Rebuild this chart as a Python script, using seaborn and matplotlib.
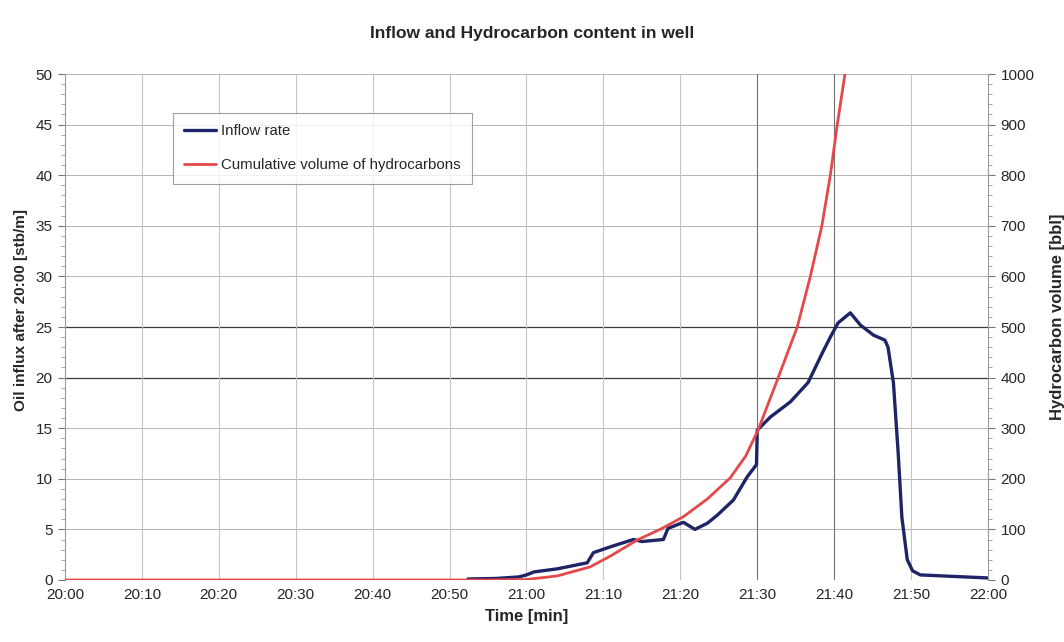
import matplotlib
matplotlib.use("Agg")
import matplotlib.pyplot as plt
import numpy as np
import pandas as pd
import seaborn as sns
from matplotlib.ticker import MultipleLocator

# minutes after 20:00
inflow_t = [52.4, 56, 59, 60, 61, 64, 67.9, 68.7, 71, 73.9, 75, 77.8, 78.4, 80.4,
            81.9, 83.5, 84.8, 86.9, 88.7, 89.9, 90.0, 91.7, 94.3, 96.6, 98.5, 99.5,
            100.5, 102.1, 103.4, 105.1, 106.6, 107.0, 107.7, 108.3, 108.8, 109.5,
            110.2, 111.2, 120]
inflow_rate = [0.1, 0.15, 0.3, 0.5, 0.8, 1.1, 1.7, 2.7, 3.3, 4.0, 3.8, 4.0, 5.1, 5.7,
               5.0, 5.6, 6.4, 7.9, 10.2, 11.4, 14.8, 16.1, 17.6, 19.5, 22.5, 24.0,
               25.4, 26.4, 25.2, 24.2, 23.7, 23.0, 19.5, 12.8, 6.2, 2.0,
               0.9, 0.5, 0.2]

cum_t = [0, 55, 60, 64, 68.3, 71, 74.4, 77.5, 80.4, 83.5, 86.5, 88.5, 90.1, 92.6,
         95.2, 96.9, 98.4, 99.5, 100.4, 101.4]
cum_vol = [0, 0, 1, 8, 26, 48, 79, 101, 125, 160, 202, 245, 296, 395,
           500, 600, 700, 800, 900, 1000]

time_labels = ["20:00", "20:10", "20:20", "20:30", "20:40", "20:50", "21:00",
               "21:10", "21:20", "21:30", "21:40", "21:50", "22:00"]

inflow = pd.DataFrame({"t": inflow_t, "rate": inflow_rate})
cum = pd.DataFrame({"t": cum_t, "vol": cum_vol})

sns.set_style("white")
plt.rcParams["font.family"] = ["Liberation Sans", "DejaVu Sans"]

fig = plt.figure(figsize=(10.64, 6.42), dpi=100)
ax = fig.add_axes([0.061, 0.0966, 0.8676, 0.7881])
ax2 = ax.twinx()

blue = "#1f2466"
red = "#e5484b"

# grid
for y in range(0, 51, 5):
    c = "#3a3a3a" if y in (20, 25) else "#b4b4b4"
    ax.axhline(y, color=c, lw=0.9 if y in (20, 25) else 0.7, zorder=0)
for i in range(0, 121, 10):
    c = "#707070" if i in (90, 100) else "#c4c4c4"
    ax.axvline(i, color=c, lw=0.8, zorder=0)

sns.lineplot(data=cum, x="t", y="vol", ax=ax2, color=red, lw=2.0,
             label="Cumulative volume of hydrocarbons", legend=False)
sns.lineplot(data=inflow, x="t", y="rate", ax=ax, color=blue, lw=2.4,
             label="Inflow rate", legend=False)

ax.set_xlim(0, 120)
ax.set_ylim(0, 50)
ax2.set_ylim(0, 1000)
ax.set_xticks(range(0, 121, 10))
ax.set_xticklabels(time_labels)
ax.set_yticks(range(0, 51, 5))
ax.yaxis.set_minor_locator(MultipleLocator(1))
ax2.set_yticks(range(0, 1001, 100))
ax2.yaxis.set_minor_locator(MultipleLocator(20))

for a in (ax, ax2):
    for s in a.spines.values():
        s.set_visible(False)
ax.spines["left"].set_visible(True)
ax.spines["left"].set_color("#9a9a9a")
ax2.spines["right"].set_visible(True)
ax2.spines["right"].set_color("#9a9a9a")

ax.tick_params(axis="y", which="major", length=5, color="#777777", labelsize=11, pad=4)
ax.tick_params(axis="y", which="minor", length=3, color="#999999", left=True)
ax.tick_params(axis="x", length=0, labelsize=11, pad=6)
ax2.tick_params(axis="y", which="major", length=5, color="#777777", labelsize=11, pad=4)
ax2.tick_params(axis="y", which="minor", length=3, color="#999999", right=True)

ax.set_xlabel("Time [min]", fontsize=12, fontweight="bold", labelpad=5)
ax.set_ylabel("Oil influx after 20:00 [stb/m]", fontsize=11, fontweight="bold")
ax.yaxis.set_label_coords(-0.04, 0.534)
ax2.set_ylabel("Hydrocarbon volume [bbl]", fontsize=12, fontweight="bold")
ax2.yaxis.set_label_coords(1.067, 0.52)
fig.suptitle("Inflow and Hydrocarbon content in well", fontsize=12.5,
             fontweight="bold", y=0.96)

h1, l1 = ax.get_legend_handles_labels()
h2, l2 = ax2.get_legend_handles_labels()
leg = ax2.legend(h1 + h2, l1 + l2, loc="upper left", bbox_to_anchor=(0.117, 0.923),
                 frameon=True, fancybox=False, edgecolor="#888888", fontsize=10.8,
                 handlelength=2.1, handletextpad=0.35, labelspacing=1.35,
                 borderpad=0.75, borderaxespad=0)
leg.get_frame().set_linewidth(0.8)

fig.savefig("out.png", dpi=100)
